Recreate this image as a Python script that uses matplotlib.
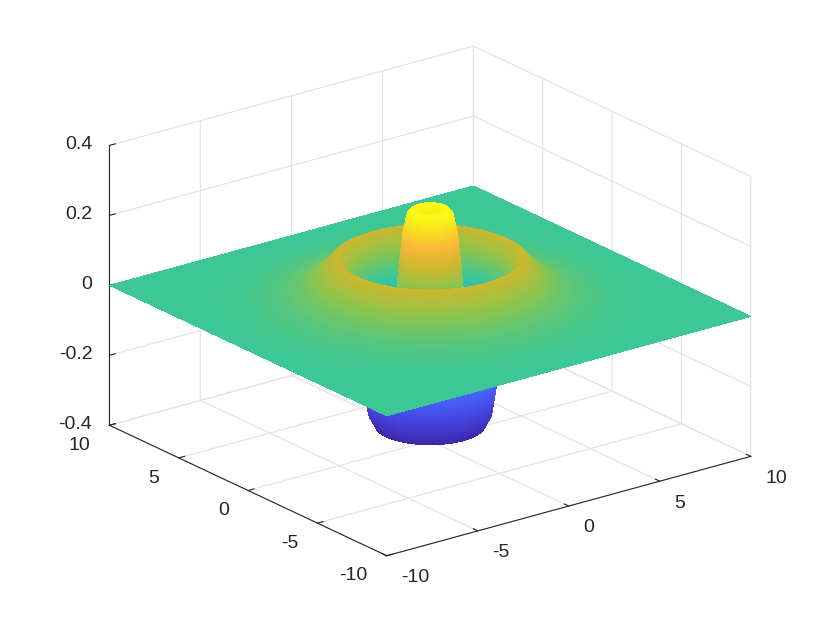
# Radial ripple surface, parula look, MATLAB style 3D axes
import numpy as np
import matplotlib
matplotlib.use("Agg")
import matplotlib.pyplot as plt
from matplotlib.colors import LinearSegmentedColormap

# radial profile (r, height)
radius = [0.0, 0.5, 0.8, 1.0, 1.2, 1.4, 1.6, 1.8, 2.1, 2.4, 2.7, 3.0, 3.2, 3.4, 3.7, 4.0, 4.3, 4.7, 5.2, 5.7, 6.2, 7.0, 8.0, 9.0, 10.0, 14.2]
height = [0.245, 0.25, 0.262, 0.25, 0.19, 0.07, -0.08, -0.22, -0.325, -0.355, -0.32, -0.2, -0.1, -0.01, 0.09, 0.125, 0.115, 0.085, 0.058, 0.04, 0.028, 0.016, 0.006, 0.002, 0.0, 0.0]

xy_ticks = [-10, -5, 0, 5, 10]
z_ticks = [-0.4, -0.2, 0, 0.2, 0.4]
xy_labels = ["-10", "-5", "0", "5", "10"]
z_labels = ["-0.4", "-0.2", "0", "0.2", "0.4"]

parula = LinearSegmentedColormap.from_list("parula", [
    (0.0, (0.2422, 0.1504, 0.6603)), (0.1, (0.27, 0.25, 0.85)), (0.22, (0.28, 0.38, 0.98)),
    (0.33, (0.15, 0.55, 0.95)), (0.46, (0.08, 0.72, 0.80)), (0.575, (0.235, 0.78, 0.59)),
    (0.69, (0.55, 0.77, 0.30)), (0.78, (0.80, 0.72, 0.18)), (0.87, (0.98, 0.72, 0.22)),
    (0.94, (0.97, 0.87, 0.13)), (1.0, (0.977, 0.984, 0.08))])

plt.rcParams["font.family"] = ["Liberation Sans", "DejaVu Sans"]

# polar mesh, fine over the ripple, then stretched out to the square edge
theta = np.linspace(0, 2 * np.pi, 241)  # 1.5 deg steps so the square corners are hit
inner = np.concatenate([np.linspace(0, 0.8, 8, endpoint=False),
                        np.linspace(0.8, 4.5, 280, endpoint=False),
                        np.linspace(4.5, 7, 50)])
outer = np.linspace(0, 1, 31)[1:]
T = theta[:, None]
edge = 10 / np.maximum(np.abs(np.cos(T)), np.abs(np.sin(T)))
Rad = np.hstack([np.tile(inner, (theta.size, 1)), 7 + (edge - 7) * outer[None, :]])
X = Rad * np.cos(T)
Y = Rad * np.sin(T)
Z = np.interp(Rad, radius, height)
colors = parula((Z + 0.355) / (0.262 + 0.355))

fig = plt.figure(figsize=(8.3, 6.23), dpi=100)
ax = fig.add_axes([22 / 830, 14 / 623, 800 / 830, 600 / 623], projection="3d", proj_type="ortho")
ax.view_init(elev=21, azim=-127.3)
ax.set_box_aspect((458, 458, 300), zoom=1.154)
ax.patch.set_alpha(0)

surf = ax.plot_surface(X, Y, Z, rstride=1, cstride=1, facecolors=colors, shade=False,
                       linewidth=0, antialiased=False)
surf.set_clip_on(False)

ax.set_xlim(-10, 10)
ax.set_ylim(-10, 10)
ax.set_zlim(-0.4, 0.4)
ax.set_xticks(xy_ticks)
ax.set_yticks(xy_ticks)
ax.set_zticks(z_ticks)
ax.set_xticklabels(xy_labels, ha="left", va="center")
ax.set_yticklabels(xy_labels, ha="right", va="center")
ax.set_zticklabels(z_labels, ha="right", va="center")
ax.tick_params(labelsize=14, colors="#262626")
ax.tick_params(axis="x", pad=4)
ax.tick_params(axis="y", pad=4)
ax.tick_params(axis="z", pad=-2)

for a in (ax.xaxis, ax.yaxis, ax.zaxis):
    a.set_pane_color((1, 1, 1, 0))
    a.pane.set_edgecolor("#e4e4e4")
    a.line.set_color("#262626")
    a.line.set_linewidth(0.8)
    a._axinfo["grid"]["color"] = "#e4e4e4"
    a._axinfo["grid"]["linewidth"] = 0.9
    a._axinfo["tick"]["color"] = "#262626"
    a._axinfo["tick"]["inward_factor"] = 0.0
    a._axinfo["tick"]["outward_factor"] = 0.2

fig.savefig("out.png", dpi=100)
